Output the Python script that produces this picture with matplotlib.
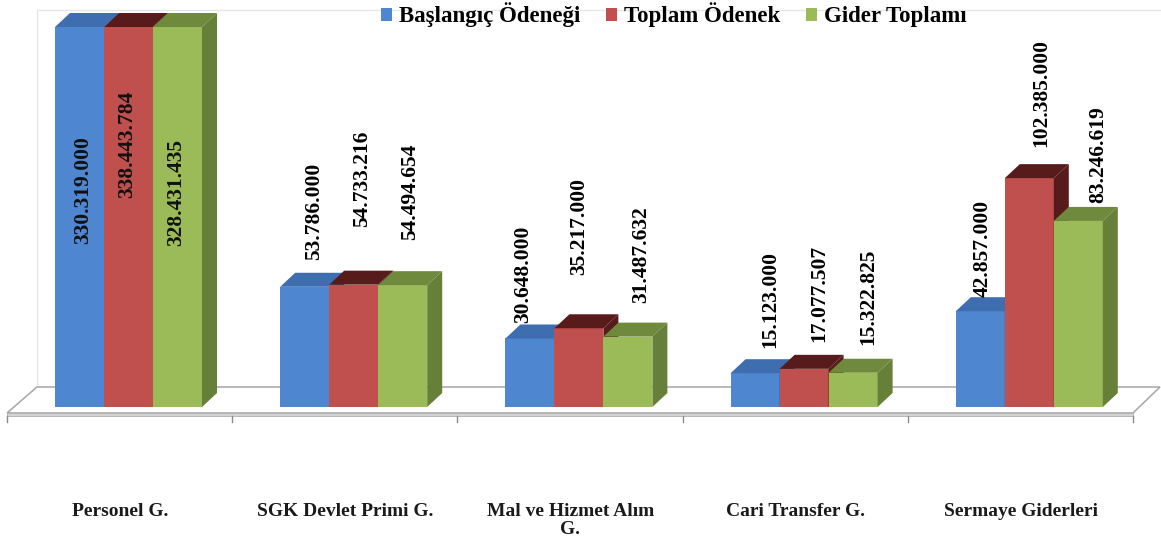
import matplotlib
matplotlib.use("Agg")
import matplotlib.pyplot as plt
from matplotlib.patches import Polygon, Patch
import numpy as np

# ---- data ----
categories = ["Personel G.", "SGK Devlet Primi G.", "Mal ve Hizmet Alım\nG.",
              "Cari Transfer G.", "Sermaye Giderleri"]
series_names = ["Başlangıç Ödeneği", "Toplam Ödenek", "Gider Toplamı"]
baslangic = [330319000, 53786000, 30648000, 15123000, 42857000]
toplam = [338443784, 54733216, 35217000, 17077507, 102385000]
gider = [328431435, 54494654, 31487632, 15322825, 83246619]
value_labels = [
    ["330.319.000", "338.443.784", "328.431.435"],
    ["53.786.000", "54.733.216", "54.494.654"],
    ["30.648.000", "35.217.000", "31.487.632"],
    ["15.123.000", "17.077.507", "15.322.825"],
    ["42.857.000", "102.385.000", "83.246.619"],
]

# ---- styling ----
front_cols = ["#4F86D0", "#C0504D", "#9BBB59"]
top_cols = ["#3E6DB0", "#571B1B", "#6F8A3C"]
side_cols = ["#2F5A96", "#571B1B", "#66803A"]
FONT = "Liberation Serif"

W, H, DPI = 1161, 539, 100
Y_MAX = 170000            # value axis maximum (in thousands)
Y0_PX, YTOP_PX = 407, 27  # pixel rows of value 0 and Y_MAX
X0_PX = 128.5             # pixel column of first group centre
PX_PER_CAT = 225.2
PX_PER_VAL = (Y0_PX - YTOP_PX) / Y_MAX


def dxv(px):
    return px / PX_PER_CAT


def dyv(px):
    return px / PX_PER_VAL


def px_x(px):
    return (px - X0_PX) / PX_PER_CAT


def px_y(py):
    return (Y0_PX - py) * 1.0 / PX_PER_VAL


DEPTH_X, DEPTH_Y = dxv(15), dyv(14)
BAR_W = dxv(49)

# label placement (pixels): horizontal shift and gap above the bar's top face
label_shift_px = [[3.5, -1, -1.5], [9.5, 8.5, 7.5], [-7, 0, 13], [15, 15, 15], [2, 12, 20]]
label_gap_px = [[0, 0, 0], [13, 44, 31], [1, 39, 20], [11, 13, 14], [0, 17, 4]]
inside_center_px = [190, 144, 193]

fig = plt.figure(figsize=(W / DPI, H / DPI), dpi=DPI)
ax = fig.add_axes([0, (H - Y0_PX) / H, 1, (Y0_PX - YTOP_PX) / H])
ax.set_xlim(px_x(0), px_x(W))
ax.set_ylim(0, Y_MAX)
ax.axis("off")

# ---- back wall (faint) and floor ----
wall_col = "#e6e6e6"
ax.plot([px_x(37), px_x(37), px_x(1160)], [px_y(387), px_y(10), px_y(10)],
        color=wall_col, lw=1.0, clip_on=False, zorder=0)
floor = Polygon([(px_x(7), px_y(413)), (px_x(1133), px_y(413)),
                 (px_x(1160), px_y(387)), (px_x(37), px_y(387))],
                closed=True, facecolor="white", edgecolor="#a6a6a6", lw=1.1,
                clip_on=False, zorder=1)
ax.add_patch(floor)
front_strip = Polygon([(px_x(7), px_y(413)), (px_x(1133), px_y(413)),
                       (px_x(1133), px_y(416)), (px_x(7), px_y(416))],
                      closed=True, facecolor="#d4d4d4", edgecolor="#b0b0b0", lw=0.6,
                      clip_on=False, zorder=1)
ax.add_patch(front_strip)
for k in range(len(categories) + 1):
    xt = px_x(7 + PX_PER_CAT * k)
    ax.plot([xt, xt], [px_y(416), px_y(422)], color="#8c8c8c", lw=1.0,
            clip_on=False, zorder=1)

# ---- 3D bars ----
data = np.array([baslangic, toplam, gider], dtype=float) / 1000.0
x = np.arange(len(categories))
for i in range(len(categories)):
    for j in range(3):
        v = data[j, i]
        xc = x[i] + (j - 1) * BAR_W
        ax.bar(xc, v, width=BAR_W, color=front_cols[j], edgecolor="none",
               zorder=2 + j * 0.1 + i * 0.5)
        h = min(v, Y_MAX)
        l, r = xc - BAR_W / 2, xc + BAR_W / 2
        z = 2.05 + j * 0.1 + i * 0.5
        ax.add_patch(Polygon([(l, h), (r, h), (r + DEPTH_X, h + DEPTH_Y),
                              (l + DEPTH_X, h + DEPTH_Y)], closed=True,
                             facecolor=top_cols[j], edgecolor="none",
                             clip_on=False, zorder=z))
        ax.add_patch(Polygon([(r, 0), (r + DEPTH_X, DEPTH_Y),
                              (r + DEPTH_X, h + DEPTH_Y), (r, h)], closed=True,
                             facecolor=side_cols[j], edgecolor="none",
                             clip_on=False, zorder=z))

        # value labels
        lx = xc + dxv(label_shift_px[i][j])
        if v > Y_MAX:
            ax.text(lx, px_y(inside_center_px[j]), value_labels[i][j], rotation=90,
                    ha="center", va="center", fontsize=15.5, fontweight="bold",
                    family=FONT, color="#111111", zorder=10)
        else:
            ly = h + DEPTH_Y + dyv(label_gap_px[i][j])
            ax.text(lx, ly, value_labels[i][j], rotation=90, ha="center",
                    va="bottom", fontsize=15.5, fontweight="bold", family=FONT,
                    color="#000000", zorder=10, clip_on=False)

# ---- category labels ----
for i, name in enumerate(categories):
    ax.text(px_x(120 + PX_PER_CAT * i), px_y(503), name, ha="center", va="top",
            fontsize=14, fontweight="bold", family=FONT, color="#1a1a1a",
            linespacing=1.1, clip_on=False)

# ---- legend ----
handles = [Patch(facecolor=c, edgecolor="none") for c in front_cols]
fig.legend(handles, series_names, loc="upper left",
           bbox_to_anchor=(381 / W, 1 - 2.5 / H), ncol=3, frameon=False,
           prop={"family": FONT, "weight": "bold", "size": 16.5},
           handlelength=0.5, handleheight=0.5, handletextpad=0.3,
           columnspacing=1.1, borderpad=0, borderaxespad=0)

fig.savefig("out.png", dpi=DPI, facecolor="white")
